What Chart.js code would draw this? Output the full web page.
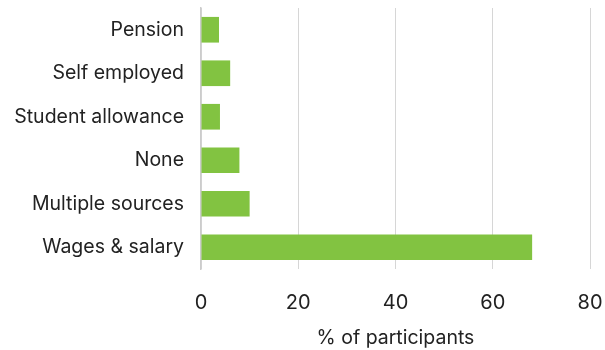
<!DOCTYPE html>
<html>
<head>
<meta charset="utf-8">
<script src="https://cdn.jsdelivr.net/npm/chart.js@4/dist/chart.umd.min.js"></script>
<style>
html,body{margin:0;padding:0;background:#fff;}
#wrap{width:605px;height:350px;}
</style>
</head>
<body>
<div id="wrap"><canvas id="c" width="605" height="350"></canvas></div>
<script>
const categories = ["Pension", "Self employed", "Student allowance", "None", "Multiple sources", "Wages & salary"];
const values = [3.7, 6.0, 3.9, 7.9, 10.0, 68.1];
const xTicks = [0, 20, 40, 60, 80];
const xTitle = "% of participants";

const FONT = "Inter, 'Noto Sans', sans-serif";
new Chart(document.getElementById('c'), {
  type: 'bar',
  data: {
    labels: categories,
    datasets: [{
      data: values,
      backgroundColor: '#82c341',
      borderWidth: 0,
      barPercentage: 0.59,
      categoryPercentage: 1.0
    }]
  },
  options: {
    indexAxis: 'y',
    responsive: false,
    animation: false,
    devicePixelRatio: 1,
    layout: { padding: { top: 8, right: 15, left: 0, bottom: 0 } },
    plugins: { legend: { display: false }, tooltip: { enabled: false } },
    scales: {
      x: {
        min: 0, max: 80,
        afterBuildTicks: (ax) => { ax.ticks = xTicks.map(v => ({ value: v })); },
        afterFit: (ax) => { ax.height = 81; ax.paddingLeft = 0; ax.paddingRight = 0; },
        grid: { color: '#d6d6d6', lineWidth: 1, drawTicks: false },
        border: { display: false },
        ticks: { color: '#222', font: { family: FONT, size: 20 }, padding: 22 },
        title: { display: true, text: xTitle, color: '#222', font: { family: FONT, size: 19.5 }, padding: { top: 10, bottom: 0 } }
      },
      y: {
        afterFit: (ax) => { ax.width = 201; ax.paddingTop = 0; ax.paddingBottom = 0; },
        grid: { display: false, drawTicks: false },
        border: { display: true, color: '#cccccc', width: 1.5 },
        ticks: { color: '#222', font: { family: FONT, size: 19.5 }, padding: 17 }
      }
    }
  }
});
</script>
</body>
</html>
